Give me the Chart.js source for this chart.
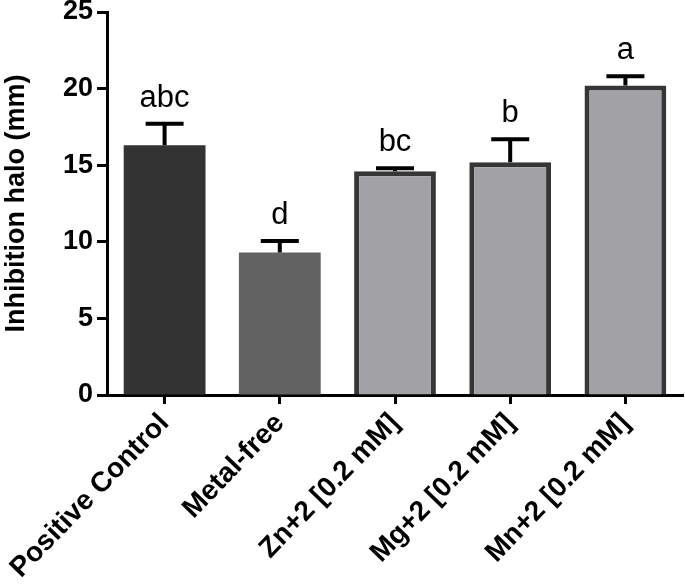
<!DOCTYPE html>
<html>
<head>
<meta charset="utf-8">
<script src="https://cdn.jsdelivr.net/npm/chart.js@4/dist/chart.umd.min.js"></script>
<style>
  body { margin: 0; background: #fff; }
  #wrap { width: 685px; height: 584px; }
</style>
</head>
<body>
<div id="wrap"><canvas id="chartHalo"></canvas></div>
<script>
const categories = ['Positive Control', 'Metal-free', 'Zn+2 [0.2 mM]', 'Mg+2 [0.2 mM]', 'Mn+2 [0.2 mM]'];
const means = [16.3, 9.3, 14.6, 15.2, 20.2];
const errors = [1.4, 0.75, 0.2, 1.5, 0.6];
const letters = ['abc', 'd', 'bc', 'b', 'a'];
const yTicks = [0, 5, 10, 15, 20, 25];

const fillColors = ['#333333', '#626262', '#a2a2a6', '#a2a2a6', '#a2a2a6'];
const edgeColors = ['#333333', '#626262', '#363636', '#363636', '#363636'];
const edgeWidths = [0, 0, 5, 5, 5];
const FONT = "'Liberation Sans', Arial, sans-serif";

// error bars + significance letters
const errorBars = {
  id: 'errorBars',
  afterDatasetsDraw(chart) {
    const c = chart.ctx;
    const y = chart.scales.y;
    const meta = chart.getDatasetMeta(0);
    c.save();
    meta.data.forEach((bar, i) => {
      const x = bar.x;
      const top = y.getPixelForValue(means[i] + errors[i]);
      const base = y.getPixelForValue(means[i]);
      c.strokeStyle = '#000';
      c.lineWidth = 4;
      c.beginPath();
      c.moveTo(x, base);
      c.lineTo(x, top);
      c.moveTo(x - 19, top);
      c.lineTo(x + 19, top);
      c.stroke();
      c.fillStyle = '#000';
      c.font = '31px ' + FONT;
      c.textAlign = 'center';
      c.textBaseline = 'alphabetic';
      c.fillText(letters[i], x, top - 17);
    });
    c.restore();
  }
};

new Chart(document.getElementById('chartHalo'), {
  type: 'bar',
  data: {
    labels: categories,
    datasets: [{
      data: means,
      backgroundColor: fillColors,
      borderColor: edgeColors,
      borderWidth: edgeWidths,
      borderSkipped: 'start',
      barPercentage: 0.71,
      categoryPercentage: 1
    }]
  },
  options: {
    responsive: true,
    maintainAspectRatio: false,
    animation: false,
    layout: { padding: { top: 12, right: 2, left: 0, bottom: 0 } },
    plugins: {
      legend: { display: false },
      tooltip: { enabled: false }
    },
    scales: {
      x: {
        afterFit(s) { s.height = 189; s.paddingLeft = 0; s.paddingRight = 0; },
        border: { color: '#000', width: 3 },
        grid: { offset: false, drawOnChartArea: false, drawTicks: true, tickLength: 9, tickWidth: 3, color: '#000' },
        ticks: {
          color: '#000',
          minRotation: 46,
          maxRotation: 46,
          padding: 3,
          font: { family: FONT, size: 28, weight: 'bold' }
        }
      },
      y: {
        min: 0,
        max: 25,
        afterFit(s) { s.width = 107; s.paddingTop = 0; s.paddingBottom = 0; },
        afterBuildTicks(s) { s.ticks = yTicks.map(v => ({ value: v })); },
        border: { color: '#000', width: 3 },
        grid: { drawOnChartArea: false, drawTicks: true, tickLength: 10, tickWidth: 3, color: '#000' },
        ticks: {
          color: '#000',
          padding: 4,
          font: { family: FONT, size: 27, weight: 'bold' }
        },
        title: {
          display: true,
          text: 'Inhibition halo (mm)',
          color: '#000',
          padding: { top: 0, bottom: 0 },
          font: { family: FONT, size: 27, weight: 'bold' }
        }
      }
    }
  },
  plugins: [errorBars]
});
</script>
</body>
</html>
